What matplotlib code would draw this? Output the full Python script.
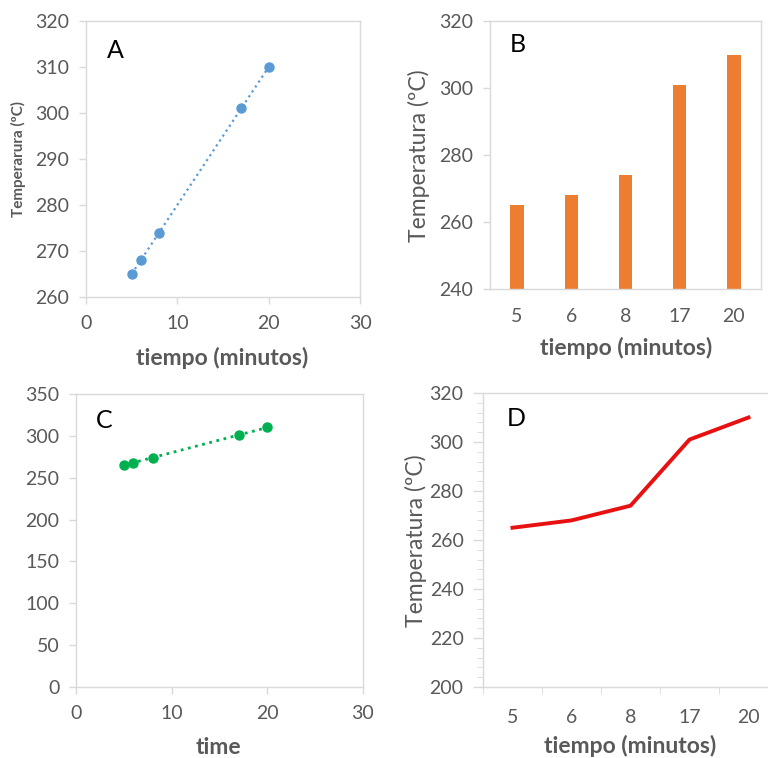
import matplotlib.pyplot as plt
import numpy as np

plt.rcParams['font.family'] = ['Lato', 'DejaVu Sans']

# datos comunes a los cuatro paneles
tiempo = [5, 6, 8, 17, 20]
temperatura = [265, 268, 274, 301, 310]
categorias = ['5', '6', '8', '17', '20']

W, H = 768, 758
gris = '#595959'
borde = '#D9D9D9'
fig = plt.figure(figsize=(W / 100, H / 100), dpi=100)


def caja(l, t, r, b):
    # posicion de un panel a partir de pixeles
    return [l / W, 1 - b / H, (r - l) / W, (b - t) / H]


def texto(x, y, s, color=gris, **kw):
    fig.text(x / W, 1 - y / H, s, color=color, ha='center', va='center', **kw)


def estilo(ax):
    for sp in ax.spines.values():
        sp.set_color(borde)
        sp.set_linewidth(1.0)
    ax.tick_params(colors=borde, labelcolor=gris, labelsize=14, length=5, width=1)


# A: dispersion con linea punteada
axA = fig.add_axes(caja(86, 21, 360, 297))
axA.plot(tiempo, temperatura, ':', color='#5B9BD5', lw=1.6)
axA.plot(tiempo, temperatura, 'o', color='#5B9BD5', ms=6.5)
axA.set_xlim(0, 30)
axA.set_ylim(260, 320)
axA.set_xticks([0, 10, 20, 30])
axA.set_yticks(np.arange(260, 321, 10))
estilo(axA)
axA.tick_params(axis='x', pad=8)
axA.tick_params(axis='y', pad=7)
texto(115, 51, 'A', color='black', fontsize=18)
texto(222, 358, 'tiempo (minutos)', fontsize=16.5, fontweight='bold')
texto(18, 159, 'Temperarura (ºC)', fontsize=11, fontweight='bold', rotation=90)

# B: barras
axB = fig.add_axes(caja(490, 21, 761, 289))
axB.bar(range(len(categorias)), temperatura, width=0.25, color='#ED7D31')
axB.set_xlim(-0.5, 4.5)
axB.set_ylim(240, 320)
axB.set_xticks(range(len(categorias)))
axB.set_xticklabels(categorias)
axB.set_yticks(np.arange(240, 321, 20))
estilo(axB)
axB.tick_params(axis='x', length=0, pad=14)
axB.tick_params(axis='y', pad=7)
texto(518, 44, 'B', color='black', fontsize=18)
texto(626, 348, 'tiempo (minutos)', fontsize=16.5, fontweight='bold')
texto(419, 156, 'Temperatura (ºC)', fontsize=16.5, rotation=90)

# C: dispersion con eje desde cero
axC = fig.add_axes(caja(76, 394, 363, 687))
axC.plot(tiempo, temperatura, ':', color='#00B050', lw=2)
axC.plot(tiempo, temperatura, 'o', color='#00B050', ms=6.5)
axC.set_xlim(0, 30)
axC.set_ylim(0, 350)
axC.set_xticks([0, 10, 20, 30])
axC.set_yticks(np.arange(0, 351, 50))
estilo(axC)
axC.tick_params(axis='x', pad=8)
axC.tick_params(axis='y', pad=7)
texto(104, 420, 'C', color='black', fontsize=18)
texto(218, 747, 'time', fontsize=16.5, fontweight='bold')

# D: linea roja por categorias
axD = fig.add_axes(caja(483, 393, 778, 687))
axD.plot(range(len(categorias)), temperatura, '-', color='#E81010', lw=2.8)
axD.set_xlim(-0.5, 4.5)
axD.set_ylim(200, 320)
axD.set_xticks(range(len(categorias)))
axD.set_xticklabels(categorias)
axD.set_xticks(np.arange(-0.5, 4.6, 1), minor=True)
axD.set_yticks(np.arange(200, 321, 20))
axD.set_yticks(np.arange(200, 321, 4), minor=True)
estilo(axD)
axD.spines['right'].set_visible(False)
axD.tick_params(axis='x', which='major', length=0, pad=16)
axD.tick_params(axis='x', which='minor', length=5, color=borde)
axD.tick_params(axis='y', which='major', pad=7, length=7)
axD.tick_params(axis='y', which='minor', length=4, color=borde)
texto(516, 418, 'D', color='black', fontsize=18)
texto(630, 746, 'tiempo (minutos)', fontsize=16.5, fontweight='bold')
texto(416, 541, 'Temperatura (ºC)', fontsize=16.5, rotation=90)

fig.savefig('out.png', dpi=100)
